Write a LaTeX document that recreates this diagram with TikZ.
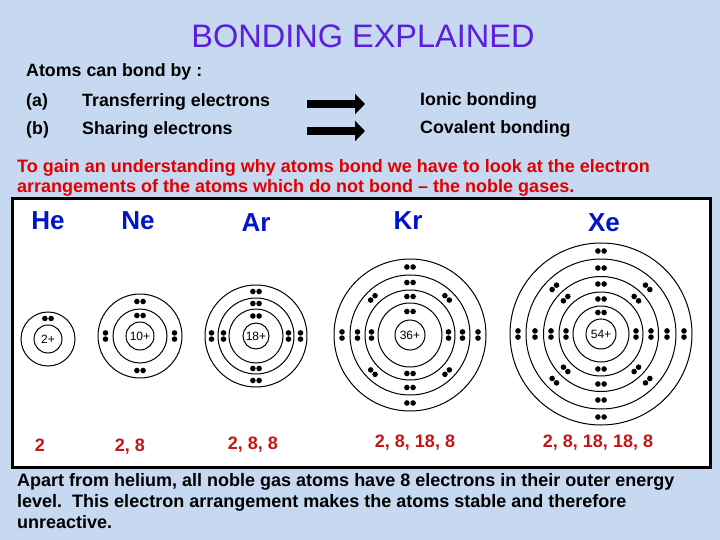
\documentclass[tikz,border=0pt]{standalone}
\usepackage{fontspec}
\setmainfont{Liberation Sans}
\usetikzlibrary{calc,arrows.meta}
\definecolor{bg}{RGB}{198,217,241}
\definecolor{ttl}{RGB}{90,30,220}
\definecolor{elb}{RGB}{0,20,200}
\definecolor{rd}{RGB}{225,0,0}
\definecolor{rdc}{RGB}{200,20,20}
\newcommand\fs[1]{\fontsize{#1}{#1}\selectfont}
\newcommand\epair[4]{%
  \fill ($(#1,#2)+(#4:#3)+(#4+90:3.1)$) circle (2.8pt);
  \fill ($(#1,#2)+(#4:#3)+(#4-90:3.1)$) circle (2.8pt);}
\newcommand\ring[3]{\draw[line width=1pt] (#1,#2) circle (#3pt);}
\begin{document}
\begin{tikzpicture}[x=1pt,y=-1pt,
  txt/.style={anchor=base west,inner sep=0pt,font=\bfseries\fs{17.8}},
  rtxt/.style={anchor=base west,inner sep=0pt,font=\bfseries\fs{18},text=rd},
  btxt/.style={anchor=base west,inner sep=0pt,font=\bfseries\fs{18}},
  elem/.style={inner sep=0pt,font=\bfseries\fs{26},text=elb},
  conf/.style={inner sep=0pt,font=\bfseries\fs{18},text=rdc},
  nuc/.style={draw,circle,line width=1pt,inner sep=0pt,font=\fs{12}},
  bigarrow/.style={-{Triangle[length=10pt,width=20pt]},line width=8pt}]
\useasboundingbox (0,0) rectangle (720,540);
\fill[bg] (0,0) rectangle (720,540);
\node[inner sep=0pt,font=\fs{32.5},text=ttl] (title) at (363,36) {BONDING EXPLAINED};
\node[txt] (intro) at (26,77) {Atoms can bond by :};
\node[txt] (a) at (26,107) {(a)};
\node[txt] (ta) at (82,107) {Transferring electrons};
\node[txt] (b) at (26,135) {(b)};
\node[txt] (tb) at (82,135) {Sharing electrons};
\node[txt] (ionic) at (420,106) {Ionic bonding};
\node[txt] (cov) at (420,134) {Covalent bonding};
\coordinate (a1s) at (307,104); \coordinate (a1e) at (365,104);
\coordinate (a2s) at (307,131); \coordinate (a2e) at (365,131);
\draw[bigarrow] (a1s) -- (a1e);
\draw[bigarrow] (a2s) -- (a2e);
\node[rtxt] (r1) at (17,173) {To gain an understanding why atoms bond we have to look at the electron};
\node[rtxt] (r2) at (17,193) {arrangements of the atoms which do not bond -- the noble gases.};
\fill[white] (12,199) rectangle (710,467);
\draw[line width=3pt] (12,199) rectangle (710,467);
\node[elem] (He) at (48,221) {He};
\node[elem] (Ne) at (138,221) {Ne};
\node[elem] (Ar) at (256,223) {Ar};
\node[elem] (Kr) at (408,221) {Kr};
\node[elem] (Xe) at (604,223) {Xe};
% He
\node[nuc,minimum size=28pt] (nHe) at (48,339) {2+};
\ring{48}{339}{27}
\epair{48}{339}{20.5}{270}
% Ne
\node[nuc,minimum size=28pt] (nNe) at (140,336) {10+};
\ring{140}{336}{27}\ring{140}{336}{42}
\epair{140}{336}{20.5}{270}
\foreach \a in {0,90,180,270}{\epair{140}{336}{34.5}{\a}}
% Ar
\node[nuc,minimum size=26pt] (nAr) at (256,336) {18+};
\ring{256}{336}{27}\ring{256}{336}{38}\ring{256}{336}{51}
\epair{256}{336}{20}{270}
\foreach \a in {0,90,180,270}{\epair{256}{336}{32.5}{\a}\epair{256}{336}{44.5}{\a}}
% Kr
\node[nuc,minimum size=30pt] (nKr) at (410,335) {36+};
\ring{410}{335}{32}\ring{410}{335}{45}\ring{410}{335}{60}\ring{410}{335}{76}
\epair{410}{335}{23.5}{270}
\foreach \a in {0,90,180,270}{\epair{410}{335}{38.5}{\a}\epair{410}{335}{68}{\a}}
\foreach \a in {0,45,...,315}{\epair{410}{335}{52.5}{\a}}
% Xe
\node[nuc,minimum size=30pt] (nXe) at (601,334) {54+};
\ring{601}{334}{28}\ring{601}{334}{42}\ring{601}{334}{57.5}\ring{601}{334}{75}\ring{601}{334}{91}
\epair{601}{334}{21.5}{270}
\foreach \a in {0,90,180,270}{\epair{601}{334}{35}{\a}\epair{601}{334}{83}{\a}}
\foreach \a in {0,45,...,315}{\epair{601}{334}{50}{\a}\epair{601}{334}{66}{\a}}
% configs
\node[conf] (cHe) at (40,445) {2};
\node[conf] (cNe) at (130,447) {2, 8};
\node[conf] (cAr) at (253,445) {2, 8, 8};
\node[conf] (cKr) at (415,443) {2, 8, 18, 8};
\node[conf] (cXe) at (598,443) {2, 8, 18, 18, 8};
\node[btxt] (p1) at (17,486) {Apart from helium, all noble gas atoms have 8 electrons in their outer energy};
\node[btxt] (p2) at (17,507) {level.\ \ This electron arrangement makes the atoms stable and therefore};
\node[btxt] (p3) at (17,528) {unreactive.};
\end{tikzpicture}
\end{document}
